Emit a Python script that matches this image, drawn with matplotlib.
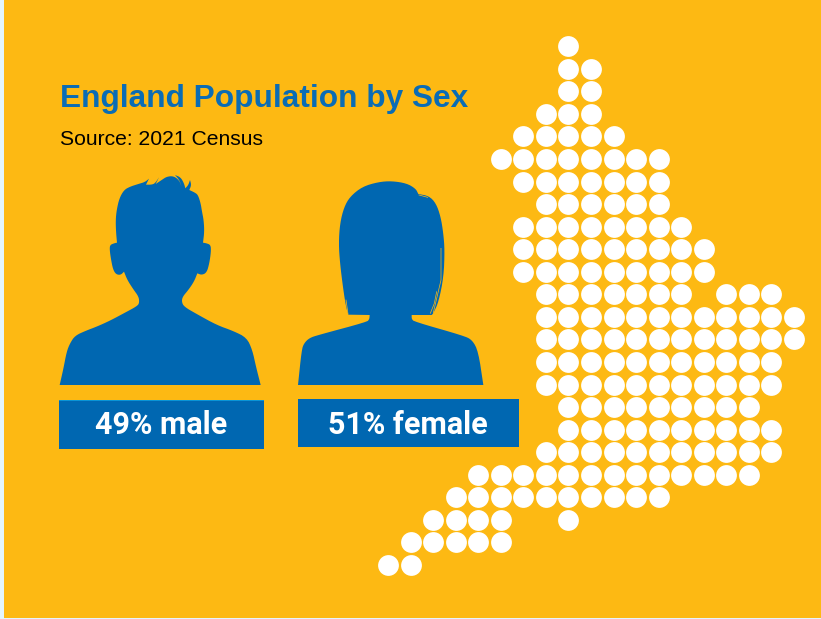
import matplotlib
matplotlib.use("Agg")
import matplotlib.pyplot as plt
from matplotlib.patches import Polygon, Rectangle

DPI = 100
W, H = 821, 619

YELLOW = "#FDB913"
BLUE = "#0067B1"
TITLE_BLUE = "#0A6CB5"
EDGE = "#E4F5FD"

title = "England Population by Sex"
source = "Source: 2021 Census"
male_pct = 49
female_pct = 51

# map of england: for each row of dots, the (first, last) column of each run
map_rows = [
    [(8, 8)],
    [(8, 9)],
    [(8, 9)],
    [(7, 9)],
    [(6, 10)],
    [(5, 12)],
    [(6, 12)],
    [(7, 12)],
    [(6, 13)],
    [(6, 14)],
    [(6, 14)],
    [(7, 13), (15, 17)],
    [(7, 18)],
    [(7, 18)],
    [(7, 17)],
    [(7, 17)],
    [(8, 16)],
    [(8, 17)],
    [(7, 17)],
    [(4, 16)],
    [(3, 12)],
    [(2, 5), (8, 8)],
    [(1, 5)],
    [(0, 1)],
]

# silhouettes (3x zoom coordinates)
male_outline = [
    (29, 645), (40, 597), (50, 545), (60, 520), (75, 497), (108, 482), (140, 470), (180, 452),
    (225, 428), (262, 408), (268, 398), (266, 380), (250, 358), (232, 330), (222, 305), (212, 315),
    (198, 313), (189, 298), (183, 268), (179, 240), (180, 225), (192, 220), (201, 218), (198, 185),
    (197, 150), (200, 120), (208, 85), (222, 60), (240, 50), (265, 42), (285, 36), (297, 26),
    (288, 44), (305, 44), (315, 40), (327, 22), (317, 42), (335, 30), (350, 20), (370, 18),
    (387, 30), (395, 50), (388, 30), (375, 15), (392, 22), (402, 40), (406, 55), (415, 45),
    (420, 30), (424, 45), (418, 60), (435, 68), (444, 75), (452, 100), (456, 125), (461, 150),
    (463, 185), (459, 218), (470, 220), (482, 225), (483, 245), (478, 280), (470, 308), (455, 315),
    (442, 310), (432, 335), (415, 360), (398, 380), (395, 395), (402, 410), (440, 432), (500, 465),
    (550, 483), (590, 503), (607, 540), (618, 590), (632, 645),
]
male_sharp = [
    (297, 26), (288, 44), (327, 22), (317, 42), (395, 50), (375, 15), (406, 55), (420, 30),
    (418, 60), (201, 218), (459, 218), (222, 305), (442, 310),
]
female_outline = [
    (39, 645), (50, 540), (57, 520), (73, 504), (100, 495), (245, 456), (253, 448), (254, 435),
    (190, 434), (183, 410), (175, 360), (165, 280), (161, 220), (165, 160), (177, 112), (195, 80),
    (232, 50), (280, 36), (320, 33), (365, 40), (392, 56), (400, 72), (432, 78), (453, 100),
    (467, 140), (475, 190), (479, 240), (476, 320), (461, 395), (445, 430), (440, 435), (380, 435),
    (380, 447), (388, 455), (535, 497), (562, 510), (580, 545), (595, 645),
]
female_sharp = [(254, 435), (190, 434), (440, 435), (380, 435), (400, 72)]
hair_strands = [
    [(402, 75), (428, 82)],
    [(468, 235), (468, 330), (445, 428)],
    [(455, 365), (448, 400), (436, 430)],
    [(183, 390), (189, 432)],
]


def male_xy(pts):
    return [(50 + x / 3, 170 + y / 3) for x, y in pts]


def female_xy(pts):
    return [(285 + x / 3, 170 + y / 3) for x, y in pts]


def chaikin(pts, n=2):
    for _ in range(n):
        out = [pts[0]]
        for a, b in zip(pts[:-1], pts[1:]):
            out.append((0.75 * a[0] + 0.25 * b[0], 0.75 * a[1] + 0.25 * b[1]))
            out.append((0.25 * a[0] + 0.75 * b[0], 0.25 * a[1] + 0.75 * b[1]))
        out.append(pts[-1])
        pts = out
    return pts


def smooth(outline, sharp):
    # round the outline off, but leave the corners and hair tips pointed
    out = []
    start = 0
    for i, p in enumerate(outline):
        if i > 0 and (p in sharp or i == len(outline) - 1):
            out += chaikin(outline[start:i + 1])
            start = i
    return out


fig = plt.figure(figsize=(W / DPI, H / DPI), dpi=DPI, facecolor=EDGE)

ax = fig.add_axes([0, 0, 1, 1])
ax.set_xlim(0, W)
ax.set_ylim(H, 0)
ax.axis("off")
ax.add_patch(Rectangle((4, 0), W - 4, 617.5, color=YELLOW, lw=0))

ax.text(60, 106.5, title, color=TITLE_BLUE, fontsize=22.75, fontweight="bold",
        family="Liberation Sans", va="baseline")
ax.text(59.5, 145, source, color="black", fontsize=15.2,
        family="Liberation Sans", va="baseline")

ax.add_patch(Polygon(male_xy(smooth(male_outline, male_sharp)), closed=True, color=BLUE, lw=0))
ax.add_patch(Polygon(female_xy(smooth(female_outline, female_sharp)), closed=True, color=BLUE, lw=0))
for s in hair_strands:
    pts = female_xy(s)
    ax.plot([p[0] for p in pts], [p[1] for p in pts], color=YELLOW, lw=0.5)

# label bars
ax.add_patch(Rectangle((59, 399.5), 205, 49.2, color=BLUE, lw=0))
ax.add_patch(Rectangle((59, 399.5), 205, 1.8, color="#0A94D6", lw=0))
ax.add_patch(Rectangle((298, 399), 221, 48, color=BLUE, lw=0))

ax.text(161, 433.5, f"{male_pct}% male", color="white", fontsize=22, fontweight="bold",
        family="Roboto", ha="center", va="baseline")
ax.text(407.5, 434, f"{female_pct}% female", color="white", fontsize=22, fontweight="bold",
        family="Roboto", ha="center", va="baseline")

# dot map, axes units are grid cells
pitch = 22.55
x0, y0 = 388.0, 46.3
grid = fig.add_axes([(x0 - pitch / 2) / W, 1 - (y0 + 23.5 * pitch) / H,
                     19 * pitch / W, 24 * pitch / H])
grid.set_xlim(-0.5, 18.5)
grid.set_ylim(23.5, -0.5)
grid.axis("off")
cols, rows = [], []
for r, runs in enumerate(map_rows):
    for first, last in runs:
        for c in range(first, last + 1):
            cols.append(c)
            rows.append(r)
size = (20.8 * 72 / DPI) ** 2
grid.scatter(cols, rows, s=size, color="white", linewidths=0, clip_on=False)

fig.savefig("out.png", dpi=DPI, facecolor=fig.get_facecolor())
